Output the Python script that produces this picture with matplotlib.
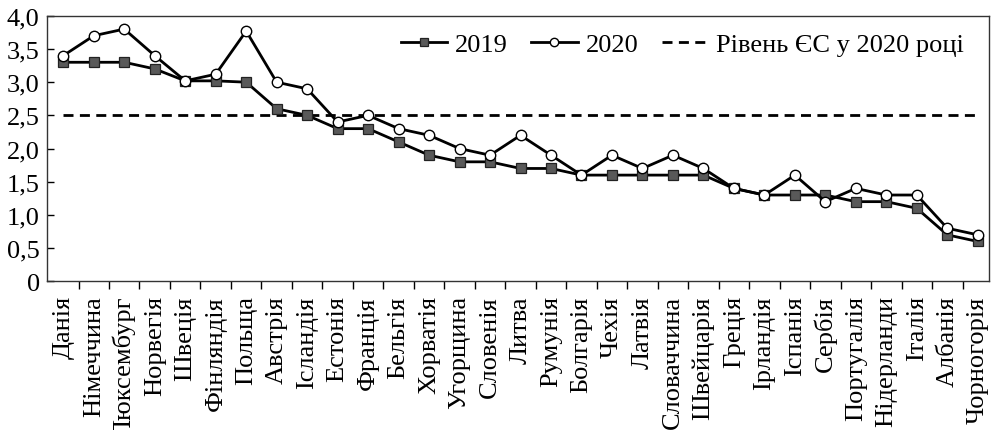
import matplotlib
matplotlib.use("Agg")
import matplotlib.pyplot as plt
from matplotlib.ticker import FixedLocator, FixedFormatter
import numpy as np

plt.rcParams['font.family'] = ['Liberation Serif', 'DejaVu Serif']

countries = ["Данія", "Німеччина", "Люксембург", "Норвегія", "Швеція", "Фінляндія",
             "Польща", "Австрія", "Ісландія", "Естонія", "Франція", "Бельгія",
             "Хорватія", "Угорщина", "Словенія", "Литва", "Румунія", "Болгарія",
             "Чехія", "Латвія", "Словаччина", "Швейцарія", "Греція", "Ірландія",
             "Іспанія", "Сербія", "Португалія", "Нідерланди", "Італія", "Албанія",
             "Чорногорія"]
values_2019 = [3.3, 3.3, 3.3, 3.2, 3.02, 3.02, 3.0, 2.6, 2.5, 2.3, 2.3, 2.1,
               1.9, 1.8, 1.8, 1.7, 1.7, 1.6, 1.6, 1.6, 1.6, 1.6, 1.4, 1.3,
               1.3, 1.3, 1.2, 1.2, 1.1, 0.7, 0.6]
values_2020 = [3.4, 3.7, 3.8, 3.4, 3.02, 3.12, 3.77, 3.0, 2.9, 2.4, 2.5, 2.3,
               2.2, 2.0, 1.9, 2.2, 1.9, 1.6, 1.9, 1.7, 1.9, 1.7, 1.4, 1.3,
               1.6, 1.2, 1.4, 1.3, 1.3, 0.8, 0.7]
eu_level_2020 = 2.5
y_ticks = [0, 0.5, 1.0, 1.5, 2.0, 2.5, 3.0, 3.5, 4.0]
y_tick_labels = ["0", "0,5", "1,0", "1,5", "2,0", "2,5", "3,0", "3,5", "4,0"]

fig = plt.figure(figsize=(9.93, 4.31), dpi=100)
ax = fig.add_axes([0.047, 0.345, 0.949, 0.616])

x = np.arange(len(countries))
ax.plot(x, values_2019, color='black', lw=2.0, marker='s', markersize=7,
        markerfacecolor='#595959', markeredgecolor='#222222', markeredgewidth=0.9,
        label='2019', zorder=3)
ax.plot(x, values_2020, color='black', lw=2.0, marker='o', markersize=7.5,
        markerfacecolor='white', markeredgecolor='black', markeredgewidth=1.0,
        label='2020', zorder=4)
ax.hlines(eu_level_2020, x[0], x[-1], colors='black', lw=2.0,
          linestyles=(0, (3.6, 2.3)), label='Рівень ЄС у 2020 році', zorder=2)

ax.set_xlim(-0.545, len(countries) - 1 + 0.37)
ax.set_ylim(0, 4.0)

ax.yaxis.set_major_locator(FixedLocator(y_ticks))
ax.yaxis.set_major_formatter(FixedFormatter(y_tick_labels))
ax.tick_params(axis='y', direction='in', length=5, width=1, labelsize=19, pad=5)

ax.set_xticks(x)
ax.set_xticklabels(countries, rotation=90, fontsize=19, va='top', ha='center')
ax.tick_params(axis='x', which='major', length=0, pad=10)
ax.set_xticks(x[:-1] + 0.5, minor=True)
ax.tick_params(axis='x', which='minor', direction='out', length=6, width=1)

for s in ax.spines.values():
    s.set_linewidth(1.0)
    s.set_color('#333333')

leg = ax.legend(loc='upper right', ncol=3, frameon=False, fontsize=19,
                handlelength=1.75, columnspacing=0.9, handletextpad=0.3,
                markerscale=0.8, bbox_to_anchor=(0.993, 1.005), borderaxespad=0.3)

fig.savefig('out.png', dpi=100)
